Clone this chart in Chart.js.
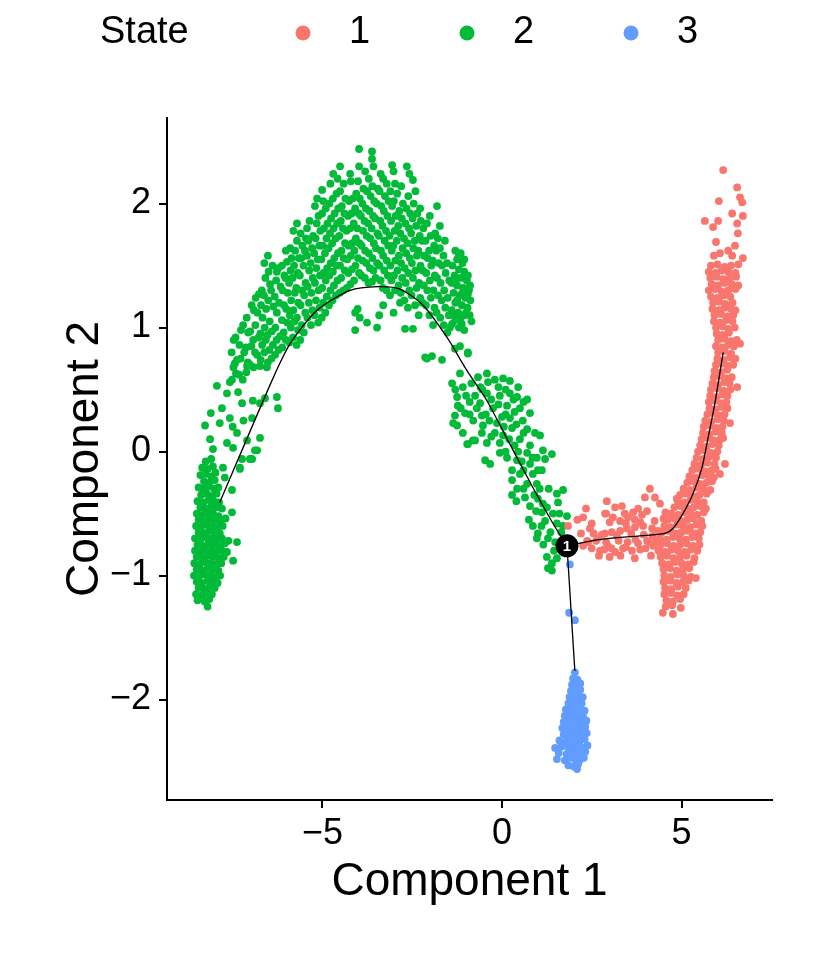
<!DOCTYPE html>
<html>
<head>
<meta charset="utf-8">
<script src="https://cdn.jsdelivr.net/npm/chart.js@4.4.1/dist/chart.umd.min.js"></script>
<style>
  html, body { margin: 0; padding: 0; background: #fff; }
</style>
</head>
<body>
<canvas id="myChart" width="823" height="960"></canvas>
<script>
const stateLabels = ['1', '2', '3'];
const stateColors = ['#F8766D', '#00BA38', '#619CFF'];
const xTicks = [-5, 0, 5];
const yTicks = [-2, -1, 0, 1, 2];

// state 1 (red): flat arm from the branch point, then the tall column on the right
const stateOne = [
  [1.84,-0.60],[2.34,-0.46],[2.26,-0.53],[2.92,-0.40],[2.87,-0.50],[3.15,-0.45],[3.34,-0.44],[3.09,-0.53],
  [3.29,-0.56],[3.51,-0.53],[3.65,-0.49],[3.79,-0.46],[4.04,-0.48],[3.98,-0.37],[4.12,-0.30],[4.26,-0.37],
  [4.40,-0.42],[4.87,-0.38],[2.45,-0.62],[2.67,-0.70],[2.87,-0.66],[3.06,-0.65],[3.29,-0.64],[3.48,-0.62],
  [3.70,-0.61],[3.93,-0.60],[4.18,-0.62],[4.35,-0.64],[2.73,-0.80],[2.95,-0.76],[3.15,-0.81],[3.37,-0.78],
  [3.62,-0.80],[3.79,-0.74],[4.04,-0.72],[4.21,-0.76],[4.40,-0.80],[2.37,-0.72],[2.26,-0.76],
  [2.5,-0.58],[3.0,-0.57],[3.45,-0.58],[3.85,-0.57],[4.25,-0.56],
  [2.2,-0.66],[2.55,-0.66],[2.78,-0.67],[3.2,-0.68],[3.6,-0.66],[3.95,-0.67],[4.2,-0.68],
  [2.4,-0.73],[2.62,-0.72],[2.9,-0.73],[3.25,-0.72],[3.5,-0.73],[3.72,-0.71],[4.1,-0.73],[4.3,-0.72],
  [2.5,-0.78],[2.85,-0.79],[3.05,-0.78],[3.45,-0.77],[3.85,-0.79],[4.0,-0.78],
  [2.7,-0.84],[3.0,-0.85],[3.3,-0.84],[3.7,-0.86],[4.15,-0.84],
  [2.1,-0.55],[3.7,-0.55],[4.5,-0.54],[2.9,-0.50],[3.42,-0.50],[3.9,-0.51],[4.55,-0.49],
  [6.16,2.27],[6.55,2.13],[6.04,2.02],[6.63,2.05],[6.69,2.01],[5.65,1.86],[6.02,1.86],[6.41,1.92],
  [6.71,1.90],[6.55,1.84],[5.88,1.81],[6.57,1.76],[5.96,1.69],[6.49,1.66],[6.07,1.60],[6.41,1.58],
  [6.71,1.56],[6.3,1.62],[5.9,1.58],
  [5.82,1.50],[6.0,1.51],[6.2,1.49],[6.38,1.50],[6.58,1.51],
  [5.76,1.45],[5.95,1.44],[6.12,1.46],[6.3,1.45],[6.5,1.44],
  [5.8,1.40],[5.98,1.41],[6.16,1.39],[6.34,1.40],[6.52,1.41],
  [5.84,1.35],[6.02,1.34],[6.2,1.36],[6.4,1.35],[6.58,1.34],
  [5.76,1.30],[5.94,1.31],[6.12,1.29],[6.3,1.30],[6.5,1.31],
  [5.82,1.25],[6.0,1.24],[6.18,1.26],[6.36,1.25],
  [5.88,1.20],[6.05,1.21],[6.22,1.19],[6.42,1.20],
  [5.86,1.15],[6.04,1.14],[6.2,1.16],[6.38,1.15],[6.5,1.14],
  [5.92,1.10],[6.1,1.11],[6.28,1.09],[6.44,1.10],
  [5.9,1.05],[6.07,1.04],[6.24,1.06],[6.42,1.05],
  [5.96,1.00],[6.14,1.01],[6.3,0.99],[6.48,1.00],
  [5.98,0.95],[6.15,0.94],[6.32,0.96],
  [6.02,0.90],[6.2,0.91],[6.38,0.89],[6.54,0.90],
  [5.96,0.85],[6.13,0.84],[6.3,0.86],[6.46,0.85],[6.63,0.87],
  [6.02,0.80],[6.2,0.81],[6.38,0.79],
  [6.0,0.75],[6.18,0.74],[6.35,0.76],[6.5,0.75],
  [5.96,0.70],[6.12,0.71],[6.3,0.69],[6.44,0.70],
  [5.92,0.65],[6.1,0.64],[6.27,0.66],
  [5.9,0.60],[6.06,0.61],[6.24,0.59],[6.4,0.60],
  [5.86,0.55],[6.03,0.54],[6.2,0.56],[6.34,0.55],[6.55,0.52],
  [5.82,0.50],[6.0,0.51],[6.18,0.49],[6.36,0.50],
  [5.8,0.45],[5.97,0.44],[6.14,0.46],[6.28,0.45],
  [5.76,0.40],[5.93,0.41],[6.1,0.39],[6.25,0.40],
  [5.78,0.35],[5.95,0.34],[6.12,0.36],[6.28,0.35],
  [5.72,0.30],[5.88,0.31],[6.05,0.29],[6.2,0.30],
  [5.66,0.25],[5.83,0.24],[6.0,0.26],[6.18,0.25],[6.35,0.23],
  [5.62,0.20],[5.8,0.21],[5.97,0.19],[6.14,0.20],
  [5.6,0.15],[5.78,0.14],[5.95,0.16],[6.12,0.15],
  [5.56,0.10],[5.74,0.11],[5.9,0.09],[6.08,0.10],[6.16,0.11],
  [5.52,0.05],[5.7,0.04],[5.87,0.06],[6.04,0.05],
  [5.46,0.00],[5.64,0.01],[5.82,-0.01],[6.0,0.00],
  [5.42,-0.05],[5.6,-0.06],[5.78,-0.04],[5.96,-0.05],[6.21,-0.10],
  [5.36,-0.10],[5.54,-0.11],[5.72,-0.09],[5.92,-0.10],
  [5.3,-0.15],[5.48,-0.14],[5.66,-0.16],[5.84,-0.15],[5.95,-0.14],[6.07,-0.18],
  [5.22,-0.20],[5.4,-0.21],[5.58,-0.19],[5.76,-0.20],[5.9,-0.21],
  [5.16,-0.25],[5.34,-0.24],[5.52,-0.26],[5.7,-0.25],[5.85,-0.24],
  [5.06,-0.30],[5.24,-0.31],[5.42,-0.29],[5.6,-0.30],[5.8,-0.31],
  [4.96,-0.35],[5.14,-0.34],[5.32,-0.36],[5.5,-0.35],[5.7,-0.34],
  [4.9,-0.40],[5.08,-0.41],[5.26,-0.39],[5.44,-0.40],[5.62,-0.41],
  [4.8,-0.45],[4.98,-0.44],[5.16,-0.46],[5.34,-0.45],[5.52,-0.44],[5.68,-0.46],
  [4.72,-0.50],[4.9,-0.51],[5.08,-0.49],[5.26,-0.50],[5.44,-0.51],[5.62,-0.49],
  [4.62,-0.55],[4.8,-0.54],[4.98,-0.56],[5.16,-0.55],[5.34,-0.54],[5.55,-0.56],
  [4.52,-0.60],[4.7,-0.61],[4.88,-0.59],[5.06,-0.60],[5.24,-0.61],[5.42,-0.59],[5.58,-0.60],
  [4.46,-0.65],[4.64,-0.64],[4.82,-0.66],[5.0,-0.65],[5.18,-0.64],[5.36,-0.66],[5.52,-0.65],
  [4.4,-0.70],[4.58,-0.71],[4.76,-0.69],[4.94,-0.70],[5.12,-0.71],[5.3,-0.69],[5.48,-0.70],
  [4.42,-0.75],[4.6,-0.74],[4.78,-0.76],[4.96,-0.75],[5.14,-0.74],[5.32,-0.76],[5.5,-0.75],
  [4.36,-0.80],[4.54,-0.81],[4.72,-0.79],[4.9,-0.80],[5.08,-0.81],[5.26,-0.79],[5.44,-0.80],
  [4.42,-0.85],[4.6,-0.84],[4.78,-0.86],[4.96,-0.85],[5.14,-0.84],[5.36,-0.86],
  [4.46,-0.90],[4.64,-0.91],[4.82,-0.89],[5.0,-0.90],[5.18,-0.91],[5.34,-0.89],
  [4.5,-0.95],[4.68,-0.94],[4.86,-0.96],[5.04,-0.95],[5.22,-0.94],
  [4.52,-1.00],[4.7,-1.01],[4.88,-0.99],[5.06,-1.00],[5.26,-1.01],[5.4,-1.02],
  [4.5,-1.05],[4.68,-1.04],[4.86,-1.06],[5.04,-1.05],[5.2,-1.04],
  [4.54,-1.10],[4.72,-1.11],[4.9,-1.09],[5.12,-1.10],
  [4.52,-1.15],[4.7,-1.14],[4.88,-1.16],[5.06,-1.15],
  [4.58,-1.20],[4.76,-1.21],[4.96,-1.19],
  [4.56,-1.25],[4.74,-1.24],[4.98,-1.26],
  [4.48,-1.30],[4.76,-1.31]
];

// state 2 (green): left blob, the arch and the falling arm to the branch point
const stateTwo = [
  [-8.25,-0.08],[-8.1,-0.06],
  [-8.35,-0.13],[-8.2,-0.14],[-8.05,-0.12],
  [-8.4,-0.19],[-8.26,-0.18],[-8.1,-0.2],[-7.98,-0.17],
  [-8.3,-0.24],[-8.15,-0.25],[-8.0,-0.23],
  [-8.45,-0.29],[-8.3,-0.3],[-8.18,-0.28],[-8.02,-0.3],[-7.9,-0.29],
  [-8.38,-0.35],[-8.22,-0.34],[-8.08,-0.36],[-7.95,-0.34],
  [-8.48,-0.4],[-8.32,-0.41],[-8.17,-0.39],[-8.03,-0.4],[-7.88,-0.41],
  [-8.4,-0.45],[-8.25,-0.46],[-8.1,-0.44],[-7.96,-0.45],[-7.8,-0.46],
  [-8.5,-0.5],[-8.35,-0.51],[-8.2,-0.49],[-8.05,-0.5],[-7.9,-0.52],
  [-8.45,-0.55],[-8.3,-0.56],[-8.15,-0.54],[-8.0,-0.55],[-7.85,-0.56],[-7.7,-0.54],
  [-8.52,-0.6],[-8.38,-0.61],[-8.22,-0.59],[-8.08,-0.6],[-7.93,-0.61],[-7.78,-0.6],
  [-8.45,-0.65],[-8.3,-0.66],[-8.16,-0.64],[-8.0,-0.65],[-7.86,-0.66],
  [-8.55,-0.7],[-8.4,-0.71],[-8.25,-0.69],[-8.1,-0.7],[-7.95,-0.71],[-7.8,-0.7],[-7.62,-0.72],
  [-8.48,-0.75],[-8.33,-0.76],[-8.18,-0.74],[-8.03,-0.75],[-7.88,-0.76],[-7.72,-0.74],
  [-8.55,-0.8],[-8.4,-0.81],[-8.26,-0.79],[-8.1,-0.8],[-7.96,-0.81],[-7.8,-0.8],
  [-8.5,-0.85],[-8.35,-0.86],[-8.2,-0.84],[-8.05,-0.85],[-7.9,-0.86],[-7.75,-0.85],
  [-8.57,-0.9],[-8.42,-0.91],[-8.28,-0.89],[-8.13,-0.9],[-7.98,-0.91],[-7.82,-0.9],
  [-8.5,-0.95],[-8.35,-0.96],[-8.2,-0.94],[-8.06,-0.95],[-7.9,-0.96],
  [-8.58,-1.0],[-8.44,-1.01],[-8.3,-0.99],[-8.14,-1.0],[-8.0,-1.01],[-7.85,-1.0],
  [-8.5,-1.05],[-8.36,-1.06],[-8.2,-1.04],[-8.06,-1.05],[-7.92,-1.06],
  [-8.45,-1.1],[-8.3,-1.11],[-8.15,-1.09],[-8.0,-1.1],
  [-8.52,-1.15],[-8.35,-1.16],[-8.22,-1.14],[-8.08,-1.15],
  [-8.48,-1.2],[-8.28,-1.21],[-8.15,-1.19],[-8.2,-1.25],
  [-7.94,0.53],[-7.58,0.56],[-7.44,0.71],[-7.10,0.69],[-6.74,0.69],[-6.55,0.68],[-7.66,0.47],[-7.35,0.48],
  [-7.24,0.39],[-6.94,0.41],[-6.6,0.43],[-6.27,0.44],[-6.24,0.35],[-8.11,0.31],[-7.58,0.27],[-6.96,0.27],
  [-8.27,0.21],[-7.86,0.23],[-7.38,0.15],[-6.74,0.11],[-8.13,0.10],[-7.66,0.07],[-7.1,0.09],[-8.05,0.02],
  [-7.49,0.03],[-6.88,0.01],[-7.24,-0.06],[-6.96,-0.06],[-7.77,-0.13],[-7.30,-0.14],[-7.72,-0.21],
  [-7.52,-0.31],[-7.52,-0.49],[-7.38,-0.73],[-7.49,-0.88],[-7.66,-0.81],[-6.74,0.39],[-6.82,0.01],
  [-7.02,-0.06],[-7.3,-0.13],[-7.8,0.35],[-7.5,0.2],[-7.2,0.25],
  [-7.52,0.58],[-7.48,0.68],[-7.53,0.8],[-7.47,0.9],
  [-7.32,0.62],[-7.28,0.75],[-7.31,0.86],[-7.27,0.98],
  [-7.12,0.64],[-7.08,0.72],[-7.13,0.84],[-7.07,0.96],[-7.11,1.08],
  [-6.92,0.68],[-6.88,0.8],[-6.93,0.9],[-6.87,1.02],[-6.91,1.14],[-6.86,1.24],
  [-6.72,0.74],[-6.68,0.86],[-6.73,0.95],[-6.67,1.08],[-6.71,1.18],[-6.69,1.3],
  [-6.52,0.72],[-6.48,0.82],[-6.53,0.94],[-6.47,1.05],[-6.51,1.22],[-6.46,1.35],[-6.5,1.45],[-6.52,1.58],
  [-6.32,0.78],[-6.28,0.9],[-6.31,1.0],[-6.27,1.12],[-6.33,1.25],[-6.29,1.38],[-6.27,1.45],
  [-6.12,0.84],[-6.08,0.96],[-6.13,1.06],[-6.07,1.18],[-6.11,1.3],[-6.06,1.42],[-6.13,1.5],
  [-5.92,0.88],[-5.88,1.0],[-5.91,1.1],[-5.87,1.22],[-5.93,1.36],[-5.89,1.46],[-5.86,1.56],[-5.9,1.64],
  [-5.72,0.86],[-5.68,0.98],[-5.71,1.08],[-5.67,1.2],[-5.73,1.32],[-5.69,1.44],[-5.66,1.56],[-5.71,1.7],[-5.71,1.84],
  [-5.52,0.96],[-5.48,1.12],[-5.51,1.26],[-5.47,1.36],[-5.53,1.5],[-5.49,1.62],[-5.46,1.72],[-5.43,1.8],
  [-5.32,1.02],[-5.28,1.14],[-5.31,1.28],[-5.27,1.4],[-5.33,1.52],[-5.29,1.64],[-5.26,1.74],
  [-5.12,1.04],[-5.08,1.16],[-5.11,1.3],[-5.07,1.42],[-5.13,1.55],[-5.09,1.66],[-5.06,1.78],[-5.11,1.9],[-5.15,2.04],
  [-4.92,1.12],[-4.88,1.25],[-4.91,1.38],[-4.87,1.48],[-4.93,1.6],[-4.89,1.72],[-4.86,1.84],[-4.91,1.96],[-5.01,2.11],
  [-4.72,1.22],[-4.68,1.34],[-4.71,1.45],[-4.67,1.56],[-4.73,1.68],[-4.69,1.8],[-4.66,1.92],[-4.71,2.04],[-4.7,2.24],
  [-4.52,1.28],[-4.48,1.4],[-4.51,1.5],[-4.47,1.62],[-4.53,1.74],[-4.49,1.86],[-4.46,1.98],[-4.51,2.1],[-4.51,2.3],
  [-4.32,1.32],[-4.28,1.44],[-4.31,1.55],[-4.27,1.66],[-4.33,1.78],[-4.29,1.9],[-4.26,2.02],[-4.23,2.24],
  [-4.09,0.98],[-4.09,1.12],[-4.12,1.38],[-4.08,1.5],[-4.11,1.62],[-4.07,1.72],[-4.13,1.84],[-4.09,1.96],[-4.06,2.08],
  [-3.96,1.08],[-3.92,1.42],[-3.88,1.54],[-3.91,1.66],[-3.87,1.78],[-3.93,1.9],[-3.89,2.0],[-3.86,2.12],[-3.98,2.44],
  [-3.76,1.04],[-3.72,1.36],[-3.68,1.48],[-3.71,1.6],[-3.67,1.72],[-3.73,1.84],[-3.69,1.94],[-3.66,2.06],[-3.71,2.2],[-3.62,2.36],
  [-3.48,1.0],[-3.52,1.4],[-3.48,1.52],[-3.51,1.64],[-3.47,1.76],[-3.53,1.88],[-3.49,2.0],[-3.46,2.12],[-3.62,2.42],
  [-3.31,1.18],[-3.32,1.32],[-3.28,1.46],[-3.31,1.58],[-3.27,1.7],[-3.33,1.82],[-3.29,1.94],[-3.26,2.06],[-3.31,2.2],
  [-3.12,1.26],[-3.08,1.38],[-3.11,1.5],[-3.07,1.62],[-3.13,1.74],[-3.09,1.86],[-3.06,1.98],[-3.11,2.1],[-3.06,2.31],
  [-2.84,1.2],[-2.88,1.34],[-2.91,1.46],[-2.87,1.58],[-2.93,1.7],[-2.89,1.82],[-2.86,1.94],[-2.92,2.08],
  [-2.7,0.99],[-2.72,1.22],[-2.68,1.36],[-2.71,1.48],[-2.67,1.6],[-2.73,1.72],[-2.69,1.84],[-2.66,1.96],[-2.65,2.3],
  [-2.48,0.99],[-2.52,1.26],[-2.48,1.4],[-2.51,1.52],[-2.47,1.64],[-2.53,1.76],[-2.49,1.88],[-2.46,2.0],[-2.48,2.19],
  [-2.32,1.1],[-2.28,1.24],[-2.31,1.36],[-2.27,1.5],[-2.33,1.62],[-2.29,1.74],[-2.26,1.86],[-2.28,1.96],
  [-2.09,0.75],[-2.12,1.18],[-2.08,1.3],[-2.11,1.44],[-2.07,1.56],[-2.13,1.7],[-2.09,1.84],
  [-1.92,1.02],[-1.88,1.16],[-1.91,1.3],[-1.87,1.42],[-1.93,1.54],[-1.89,1.66],[-1.86,1.76],[-1.81,1.98],
  [-1.67,0.74],[-1.72,1.08],[-1.68,1.22],[-1.71,1.36],[-1.67,1.5],[-1.73,1.64],[-1.73,1.82],
  [-1.95,0.77],[-2.14,0.76],
  [-1.52,0.96],[-1.48,1.1],[-1.51,1.24],[-1.47,1.38],[-1.53,1.52],
  [-7.41,0.63],[-7.38,0.74],[-7.42,0.92],
  [-7.22,0.58],[-7.18,0.8],[-7.21,1.02],
  [-7.02,0.7],[-6.98,0.85],[-7.01,0.97],[-6.97,1.18],
  [-6.82,0.78],[-6.78,0.92],[-6.81,1.12],[-6.77,1.27],
  [-6.62,0.8],[-6.58,0.9],[-6.61,1.0],[-6.57,1.15],[-6.63,1.26],[-6.59,1.4],[-6.62,1.52],
  [-6.42,0.75],[-6.38,0.86],[-6.41,0.97],[-6.37,1.17],[-6.43,1.3],[-6.39,1.5],
  [-6.22,0.82],[-6.18,0.93],[-6.21,1.2],[-6.17,1.33],[-6.23,1.48],
  [-6.02,0.9],[-5.98,1.04],[-6.01,1.15],[-5.97,1.28],[-6.03,1.4],[-5.99,1.53],[-6.02,1.62],
  [-5.82,0.92],[-5.78,1.05],[-5.81,1.14],[-5.77,1.28],[-5.83,1.4],[-5.79,1.5],[-5.76,1.62],[-5.81,1.78],
  [-5.62,0.9],[-5.58,1.02],[-5.61,1.18],[-5.57,1.3],[-5.63,1.42],[-5.59,1.56],[-5.56,1.66],[-5.61,1.76],
  [-5.42,1.08],[-5.38,1.2],[-5.41,1.33],[-5.37,1.46],[-5.43,1.58],[-5.39,1.7],[-5.36,1.86],
  [-5.22,1.1],[-5.18,1.22],[-5.21,1.36],[-5.17,1.48],[-5.23,1.6],[-5.19,1.72],[-5.16,1.84],[-5.21,1.98],
  [-5.02,1.08],[-4.98,1.2],[-5.01,1.32],[-4.97,1.44],[-5.03,1.55],[-4.99,1.66],[-4.96,1.8],[-5.01,1.92],[-4.98,2.02],
  [-4.82,1.18],[-4.78,1.3],[-4.81,1.42],[-4.77,1.52],[-4.83,1.64],[-4.79,1.76],[-4.76,1.88],[-4.81,2.0],[-4.78,2.16],
  [-4.62,1.26],[-4.58,1.38],[-4.61,1.5],[-4.57,1.6],[-4.63,1.72],[-4.59,1.84],[-4.56,1.96],[-4.61,2.08],[-4.58,2.2],
  [-4.42,1.3],[-4.38,1.46],[-4.41,1.56],[-4.37,1.68],[-4.43,1.8],[-4.39,1.92],[-4.36,2.04],[-4.41,2.16],
  [-4.22,1.35],[-4.18,1.47],[-4.21,1.58],[-4.17,1.68],[-4.23,1.8],[-4.19,1.92],[-4.16,2.04],[-4.21,2.18],
  [-4.02,1.15],[-3.98,1.44],[-4.01,1.56],[-3.97,1.68],[-4.03,1.8],[-3.99,1.92],[-3.96,2.04],[-4.01,2.18],[-3.98,2.3],
  [-3.82,1.4],[-3.78,1.52],[-3.81,1.62],[-3.77,1.74],[-3.83,1.86],[-3.79,1.96],[-3.76,2.1],[-3.81,2.26],
  [-3.62,1.37],[-3.58,1.46],[-3.61,1.56],[-3.57,1.68],[-3.63,1.8],[-3.59,1.9],[-3.56,2.02],[-3.61,2.14],[-3.58,2.3],
  [-3.42,1.1],[-3.38,1.38],[-3.41,1.5],[-3.37,1.62],[-3.43,1.74],[-3.39,1.86],[-3.36,1.98],[-3.41,2.1],[-3.38,2.24],
  [-3.22,1.3],[-3.18,1.42],[-3.21,1.54],[-3.17,1.66],[-3.23,1.78],[-3.19,1.9],[-3.16,2.02],[-3.21,2.16],
  [-3.02,1.12],[-2.98,1.3],[-3.01,1.42],[-2.97,1.54],[-3.03,1.66],[-2.99,1.78],[-2.96,1.9],[-3.01,2.02],[-2.98,2.16],[-3.02,2.26],
  [-2.82,1.28],[-2.78,1.4],[-2.81,1.52],[-2.77,1.64],[-2.83,1.76],[-2.79,1.88],[-2.76,2.0],[-2.81,2.14],
  [-2.62,1.16],[-2.58,1.3],[-2.61,1.44],[-2.57,1.56],[-2.63,1.68],[-2.59,1.8],[-2.56,1.92],[-2.61,2.06],[-2.58,2.24],
  [-2.42,1.18],[-2.38,1.32],[-2.41,1.46],[-2.37,1.58],[-2.43,1.7],[-2.39,1.82],[-2.36,1.92],[-2.41,2.1],
  [-2.22,1.2],[-2.18,1.34],[-2.21,1.46],[-2.17,1.58],[-2.23,1.7],[-2.19,1.8],
  [-2.02,1.1],[-1.98,1.24],[-2.01,1.38],[-1.97,1.5],[-2.03,1.62],[-1.99,1.74],[-2.01,1.9],
  [-1.82,1.12],[-1.78,1.26],[-1.81,1.4],[-1.77,1.52],[-1.83,1.62],[-1.79,1.72],
  [-1.62,1.02],[-1.58,1.16],[-1.61,1.3],[-1.57,1.44],[-1.63,1.58],[-1.59,1.7],
  [-1.3,1.62],[-1.15,1.6],[-1.25,1.55],[-1.1,1.52],[-1.38,1.5],[-1.2,1.47],[-1.05,1.45],[-1.32,1.42],
  [-1.15,1.4],[-0.98,1.38],[-1.4,1.36],[-1.25,1.34],[-1.08,1.32],[-0.92,1.3],[-1.35,1.28],[-1.18,1.26],
  [-1.02,1.24],[-0.88,1.22],[-1.3,1.2],[-1.12,1.18],[-0.96,1.16],[-1.4,1.14],[-1.22,1.12],[-1.05,1.1],
  [-1.3,1.06],[-1.12,1.03],[-1.45,1.0],[-0.89,1.34],[-0.95,1.27],[-0.85,1.05],[-1.39,1.03],
  [-1.2,1.58],[-1.05,1.55],[-1.3,1.38],[-1.1,1.28],[-0.95,1.42],[-1.25,1.22],[-1.0,1.12],[-1.35,1.1],
  [-1.15,1.08],[-0.9,1.1],[-1.2,1.0],[-1.05,0.98],
  [-1.17,0.85],[-0.95,0.79],[-1.31,0.83],[-0.95,0.80],
  [-1.17,0.63],[-1.39,0.55],[-1.09,0.52],[-0.67,0.60],[-0.42,0.63],[-0.39,0.56],[0.03,0.59],[0.22,0.57],
  [0.45,0.52],[-1.25,0.44],[-0.75,0.45],[-0.42,0.47],[-0.06,0.45],[0.22,0.47],[0.42,0.44],[-1.23,0.37],
  [-0.61,0.39],[-0.25,0.35],[0.14,0.37],[0.50,0.35],[0.78,0.31],[-1.31,0.29],[-1.03,0.31],[-0.56,0.29],
  [0.22,0.27],[0.58,0.25],[-1.25,0.21],[-0.53,0.21],[-0.14,0.23],[0.28,0.19],[-1.09,0.15],[-0.56,0.15],
  [0.03,0.13],[0.50,0.10],[0.92,0.15],[1.06,0.13],[-0.95,0.06],[-0.75,0.09],[-0.42,0.07],[-0.06,0.07],
  [0.78,0.05],[1.14,0.01],[-0.06,-0.01],[0.14,-0.05],[0.70,-0.01],[0.97,-0.05],[-0.47,-0.07],[-0.33,-0.10],
  [0.42,-0.07],[0.78,-0.10],[1.2,-0.06],[1.39,-0.02],[0.28,-0.15],[0.50,-0.18],[0.86,-0.18],[1.11,-0.15],
  [0.28,-0.23],[0.42,-0.30],[0.70,-0.26],[0.97,-0.26],[0.28,-0.35],[0.64,-0.37],[0.78,-0.44],[1.0,-0.38],
  [1.14,-0.42],[1.53,-0.34],[1.70,-0.31],[1.56,-0.41],[1.11,-0.49],[1.42,-0.50],[1.81,-0.52],[0.86,-0.60],
  [1.2,-0.56],[1.53,-0.58],[1.0,-0.66],[1.28,-0.70],[1.48,-0.73],[0.97,-0.70],[1.25,-0.85],[1.39,-0.90],
  [1.53,-0.86],[1.39,-0.96],[1.28,-0.94],
  [-0.55,0.5],[-0.3,0.42],[-0.1,0.52],[0.1,0.3],[0.35,0.32],[-0.2,0.15],[0.0,0.28],[0.35,0.05],
  [0.6,0.15],[-0.8,0.25],[-0.35,0.25],[0.1,0.0],[0.55,-0.08],[0.6,-0.3],[0.9,-0.35],[1.3,-0.3],
  [1.1,-0.6],[1.65,-0.65],[0.7,0.42],[-0.9,0.4],[-1.36,0.23],[-0.81,0.09],[-0.97,0.06],
  [-1.3,0.5],[-1.0,0.45],[-0.85,0.55],[-0.6,0.52],[-0.2,0.58],[0.1,0.5],[0.32,0.42],[0.6,0.4],
  [-1.15,0.35],[-0.9,0.3],[-0.7,0.35],[-0.45,0.3],[-0.1,0.38],[0.05,0.2],[0.4,0.22],[0.7,0.18],
  [-0.3,0.12],[0.2,0.1],[0.45,0.0],[0.85,-0.05],[0.6,-0.15],[1.0,-0.15],[0.4,-0.4],[0.95,-0.48],
  [1.25,-0.45],[1.6,-0.5],[1.35,-0.65],[1.15,-0.75],[1.45,-0.8],[0.75,-0.55],[1.7,-0.6],[1.05,-0.3]
];

// state 3 (blue): small drop below the branch point
const stateThree = [
  [1.89,-0.91],[1.87,-1.30],[2.03,-1.36],
  [2.03,-1.78],
  [1.98,-1.83],[2.1,-1.84],
  [1.95,-1.88],[2.08,-1.89],[2.18,-1.87],
  [1.92,-1.93],[2.05,-1.94],[2.18,-1.92],
  [1.88,-1.98],[2.0,-1.99],[2.13,-1.97],[2.25,-1.98],
  [1.85,-2.03],[1.98,-2.04],[2.1,-2.02],[2.22,-2.03],
  [1.78,-2.08],[1.92,-2.09],[2.05,-2.07],[2.18,-2.08],[2.3,-2.09],
  [1.75,-2.13],[1.88,-2.14],[2.0,-2.12],[2.13,-2.13],[2.26,-2.14],
  [1.72,-2.18],[1.85,-2.19],[1.98,-2.17],[2.1,-2.18],[2.22,-2.19],[2.35,-2.17],
  [1.68,-2.23],[1.8,-2.24],[1.93,-2.22],[2.06,-2.23],[2.2,-2.24],[2.32,-2.22],
  [1.72,-2.28],[1.85,-2.29],[1.98,-2.27],[2.1,-2.28],[2.24,-2.29],[2.36,-2.27],
  [1.6,-2.33],[1.78,-2.34],[1.9,-2.32],[2.03,-2.33],[2.16,-2.34],[2.3,-2.32],
  [1.48,-2.39],[1.65,-2.38],[1.85,-2.39],[1.97,-2.37],[2.1,-2.38],[2.24,-2.39],[2.38,-2.37],
  [1.58,-2.43],[1.8,-2.44],[1.93,-2.42],[2.06,-2.43],[2.2,-2.44],[2.32,-2.42],
  [1.53,-2.48],[1.75,-2.49],[1.9,-2.47],[2.02,-2.48],[2.16,-2.49],[2.28,-2.47],
  [1.85,-2.53],[2.0,-2.54],[2.12,-2.52],
  [2.09,-2.56]
];

// principal graph (black line) and the branch point
const trajLeft = [[-7.86,-0.41],[-6.41,0.57],[-5.9,0.87],[-5.15,1.14],[-4.23,1.30],[-3.45,1.33],[-2.84,1.31],
  [-2.2,1.18],[-1.53,0.92],[-0.97,0.65],[-0.42,0.41],[0.22,0.06],[0.86,-0.29],[1.42,-0.58],[1.81,-0.76]];
const trajRight = [[1.81,-0.76],[2.7,-0.71],[3.84,-0.68],[4.54,-0.66],[4.76,-0.62],[5.04,-0.50],[5.32,-0.34],
  [5.57,-0.13],[5.74,0.11],[5.93,0.39],[6.16,0.80]];
const trajDown = [[1.81,-0.76],[2.03,-1.77]];
const branchPoint = [[1.81,-0.76]];
const branchLabel = '1';

const FONT = '"Liberation Sans", Arial, Helvetica, sans-serif';

function toXY(arr) {
    return arr.map(p => ({x: p[0], y: p[1]}));
}

function fmtTick(v) {
    return v < 0 ? '\u2212' + Math.abs(v) : String(v);
}

const stateLegend = {
    id: 'stateLegend',
    afterDraw(chart) {
        const ctx = chart.ctx;
        const y = 33;
        ctx.save();
        ctx.font = '38px ' + FONT;
        ctx.textBaseline = 'middle';
        ctx.textAlign = 'left';
        ctx.fillStyle = '#000';
        ctx.fillText('State', 100, y);
        for (let i = 0; i < stateLabels.length; i++) {
            const cx = 303 + i * 164;
            ctx.beginPath();
            ctx.arc(cx, y, 7.5, 0, Math.PI * 2);
            ctx.fillStyle = stateColors[i];
            ctx.fill();
            ctx.fillStyle = '#000';
            ctx.fillText(stateLabels[i], cx + 46, y);
        }
        ctx.restore();
    }
};

const branchText = {
    id: 'branchText',
    afterDatasetsDraw(chart) {
        const meta = chart.getDatasetMeta(6);
        const pt = meta.data[0];
        if (!pt) return;
        const ctx = chart.ctx;
        ctx.save();
        ctx.fillStyle = '#fff';
        ctx.font = 'bold 15px ' + FONT;
        ctx.textAlign = 'center';
        ctx.textBaseline = 'middle';
        ctx.fillText(branchLabel, pt.x, pt.y + 1);
        ctx.restore();
    }
};

const axisGrid = {display: true, drawOnChartArea: false, drawTicks: true, tickLength: 8, color: '#000', lineWidth: 2};
const axisBorder = {display: true, color: '#000', width: 2};
const DOT = 3.9;

const ctx = document.getElementById('myChart');

new Chart(ctx, {
    type: 'scatter',
    data: {
        datasets: [
            {label: stateLabels[1], data: toXY(stateTwo), backgroundColor: stateColors[1], pointRadius: DOT, borderWidth: 0, order: 4},
            {label: stateLabels[0], data: toXY(stateOne), backgroundColor: stateColors[0], pointRadius: DOT, borderWidth: 0, order: 3},
            {label: stateLabels[2], data: toXY(stateThree), backgroundColor: stateColors[2], pointRadius: DOT, borderWidth: 0, order: 3},
            {label: 'traj', data: toXY(trajLeft), showLine: true, borderColor: '#000', borderWidth: 1.3, pointRadius: 0, tension: 0.25, order: 1},
            {label: 'traj', data: toXY(trajRight), showLine: true, borderColor: '#000', borderWidth: 1.3, pointRadius: 0, tension: 0.25, order: 1},
            {label: 'traj', data: toXY(trajDown), showLine: true, borderColor: '#000', borderWidth: 1.3, pointRadius: 0, order: 1},
            {label: 'branch', data: toXY(branchPoint), backgroundColor: '#000', pointRadius: 11.5, borderWidth: 0, order: 0}
        ]
    },
    options: {
        responsive: false,
        animation: false,
        layout: {padding: {top: 118, right: 51, left: 0, bottom: 0}},
        plugins: {legend: {display: false}, tooltip: {enabled: false}},
        scales: {
            x: {
                type: 'linear', min: -9.33, max: 7.52,
                afterBuildTicks: s => { s.ticks = xTicks.map(v => ({value: v})); },
                afterFit: s => { s.height = 160; },
                grid: axisGrid,
                border: axisBorder,
                ticks: {color: '#000', font: {size: 36, family: FONT}, padding: 4, maxRotation: 0, callback: v => fmtTick(v)},
                title: {display: true, text: 'Component 1', color: '#000', font: {size: 46, family: FONT}, padding: {top: 0, bottom: 50}}
            },
            y: {
                type: 'linear', min: -2.81, max: 2.69,
                afterBuildTicks: s => { s.ticks = yTicks.map(v => ({value: v})); },
                afterFit: s => { s.width = 167; },
                grid: axisGrid,
                border: axisBorder,
                ticks: {color: '#000', font: {size: 36, family: FONT}, padding: 8, callback: v => fmtTick(v)},
                title: {display: true, text: 'Component 2', color: '#000', font: {size: 46, family: FONT}, padding: {top: 58, bottom: 0}}
            }
        }
    },
    plugins: [stateLegend, branchText]
});
</script>
</body>
</html>
